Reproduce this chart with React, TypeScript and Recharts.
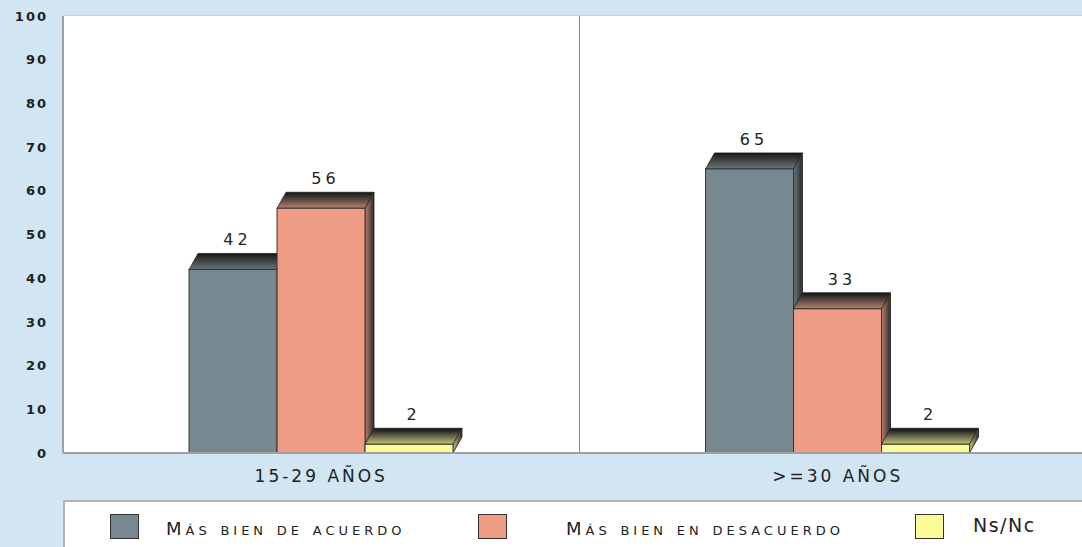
import { Bar, BarChart, CartesianGrid, LabelList, Legend, ReferenceLine, XAxis, YAxis } from "recharts";

const categories = ["15-29 AÑOS", ">=30 AÑOS"];
const acuerdo = [42, 65];
const desacuerdo = [56, 33];
const nsnc = [2, 2];
const yTicks = [0, 10, 20, 30, 40, 50, 60, 70, 80, 90, 100];

const series = [
  { key: "acuerdo", name: "Más bien de acuerdo", color: "#788891", shade: "#6a777e" },
  { key: "desacuerdo", name: "Más bien en desacuerdo", color: "#ee9c84", shade: "#b88070" },
  { key: "nsnc", name: "Ns/Nc", color: "#fbfb98", shade: "#c4c47a" }
];

const data = categories.map((name, i) => ({
  name,
  acuerdo: acuerdo[i],
  desacuerdo: desacuerdo[i],
  nsnc: nsnc[i]
}));

const DX = 9;
const DY = 16;
const FONT = "'DejaVu Sans', sans-serif";

function Bar3D(props: any) {
  const { x, y, width, height, fill, gid } = props;
  if (width == null || height == null) return null;
  return (
    <g>
      <path
        d={`M${x},${y} L${x + DX},${y - DY} L${x + width + DX},${y - DY} L${x + width},${y} Z`}
        fill={`url(#top-${gid})`}
        stroke="#222"
        strokeWidth={0.8}
      />
      <path
        d={`M${x + width},${y} L${x + width + DX},${y - DY} L${x + width + DX},${y + height - DY} L${x + width},${y + height} Z`}
        fill={`url(#side-${gid})`}
        stroke="#222"
        strokeWidth={0.8}
      />
      <rect x={x} y={y} width={width} height={height} fill={fill} stroke="#333" strokeWidth={1} />
    </g>
  );
}

function ValueLabel(props: any) {
  const { x, y, width, value } = props;
  return (
    <text
      x={x + width / 2 + DX / 2}
      y={y - DY - 8}
      textAnchor="middle"
      fontFamily={FONT}
      fontSize={16}
      letterSpacing={4}
      fill="#222"
    >
      {value}
    </text>
  );
}

const legendSpots = [
  { box: 47, text: 103 },
  { box: 415, text: 503 },
  { box: 852, text: 910 }
];

function LegendBox() {
  return (
    <div
      style={{
        position: "relative",
        width: 1040,
        height: 47,
        background: "#fff",
        borderTop: "2px solid #b4b4b4",
        borderLeft: "2px solid #b4b4b4",
        boxSizing: "border-box",
        fontFamily: FONT
      }}
    >
      {series.map((s, i) => (
        <div key={s.key}>
          <div
            style={{
              position: "absolute",
              left: legendSpots[i].box - 2,
              top: 12,
              width: 29,
              height: 25,
              background: s.color,
              border: "1px solid #333",
              boxSizing: "border-box"
            }}
          />
          <div
            style={{
              position: "absolute",
              left: legendSpots[i].text - 2,
              top: i === 2 ? 13 : 17,
              fontSize: i === 2 ? 19 : 18,
              fontVariant: i === 2 ? "normal" : "small-caps",
              letterSpacing: i === 2 ? 1.5 : 4,
              color: "#222",
              whiteSpace: "nowrap",
              lineHeight: "20px"
            }}
          >
            {s.name}
          </div>
        </div>
      ))}
    </div>
  );
}

export default function App() {
  return (
    <div
      style={{
        position: "fixed",
        left: 0,
        top: 0,
        width: 1082,
        height: 547,
        overflow: "hidden",
        background: "#d1e5f3"
      }}
    >
      <BarChart
        width={1096}
        height={547}
        data={data}
        margin={{ top: 16, right: 0, bottom: 0, left: 0 }}
        barCategoryGap="24.4%"
        barGap={0}
      >
        <defs>
          {series.map((s) => (
            <linearGradient key={`t${s.key}`} id={`top-${s.key}`} x1="0" y1="0" x2="0" y2="1">
              <stop offset="0%" stopColor="#121212" />
              <stop offset="15%" stopColor="#262626" />
              <stop offset="100%" stopColor={s.shade} />
            </linearGradient>
          ))}
          {series.map((s) => (
            <linearGradient key={`s${s.key}`} id={`side-${s.key}`} x1="0" y1="0" x2="1" y2="0">
              <stop offset="0%" stopColor={s.shade} />
              <stop offset="100%" stopColor="#2a2a2a" />
            </linearGradient>
          ))}
        </defs>
        <rect x={63} y={16} width={1040} height={437} fill="#fff" />
        <CartesianGrid stroke="#c8c8c8" strokeWidth={1.5} vertical={false} />
        <XAxis
          dataKey="name"
          height={47}
          tickLine={false}
          axisLine={{ stroke: "#a0a0a0", strokeWidth: 2 }}
          tickMargin={11}
          tick={{ fontFamily: FONT, fontSize: 17, letterSpacing: 3, fill: "#222" }}
        />
        <YAxis
          width={63}
          domain={[0, 100]}
          ticks={yTicks}
          interval={0}
          tickLine={false}
          tickSize={6}
          tickMargin={9}
          axisLine={{ stroke: "#a0a0a0", strokeWidth: 2 }}
          tick={{ fontFamily: FONT, fontSize: 13, fontWeight: "bold", letterSpacing: 2, fill: "#222" }}
        />
        <ReferenceLine x={categories[1]} position="start" stroke="#888" strokeWidth={1} />
        <Legend
          verticalAlign="bottom"
          height={47}
          wrapperStyle={{ left: 63, top: 500, width: 1040, height: 47 }}
          content={() => <LegendBox />}
        />
        {series.map((s) => (
          <Bar
            key={s.key}
            dataKey={s.key}
            name={s.name}
            fill={s.color}
            isAnimationActive={false}
            shape={(p: any) => <Bar3D {...p} gid={s.key} />}
          >
            <LabelList dataKey={s.key} content={(p: any) => <ValueLabel {...p} />} />
          </Bar>
        ))}
      </BarChart>
    </div>
  );
}
